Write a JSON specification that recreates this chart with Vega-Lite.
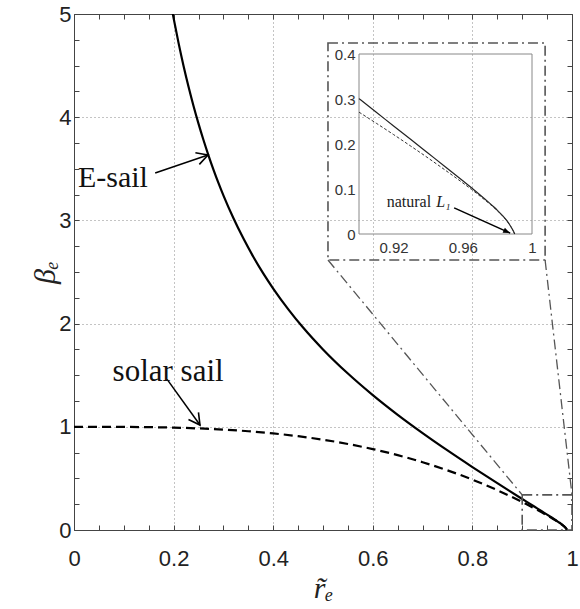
{
  "$schema": "https://vega.github.io/schema/vega-lite/v6.json",
  "width": 498,
  "height": 516,
  "autosize": "none",
  "padding": {"left": 74, "top": 14, "right": 8, "bottom": 79},
  "background": "white",
  "config": {"view": {"stroke": null}},
  "datasets": {
    "esail": [
      {"r": 0.198, "b": 5.011}, {"r": 0.2, "b": 4.96}, {"r": 0.21, "b": 4.718}, {"r": 0.22, "b": 4.497},
      {"r": 0.23, "b": 4.295}, {"r": 0.24, "b": 4.109}, {"r": 0.25, "b": 3.938}, {"r": 0.26, "b": 3.779},
      {"r": 0.27, "b": 3.631}, {"r": 0.28, "b": 3.493}, {"r": 0.29, "b": 3.364}, {"r": 0.3, "b": 3.243},
      {"r": 0.32, "b": 3.023}, {"r": 0.34, "b": 2.826}, {"r": 0.36, "b": 2.648}, {"r": 0.38, "b": 2.487},
      {"r": 0.4, "b": 2.34}, {"r": 0.43, "b": 2.141}, {"r": 0.46, "b": 1.962}, {"r": 0.5, "b": 1.75},
      {"r": 0.55, "b": 1.516}, {"r": 0.6, "b": 1.307}, {"r": 0.65, "b": 1.116}, {"r": 0.7, "b": 0.939},
      {"r": 0.75, "b": 0.771}, {"r": 0.8, "b": 0.61}, {"r": 0.85, "b": 0.454}, {"r": 0.9, "b": 0.3008},
      {"r": 0.91, "b": 0.2705}, {"r": 0.92, "b": 0.2401}, {"r": 0.93, "b": 0.2098}, {"r": 0.94, "b": 0.1794},
      {"r": 0.95, "b": 0.149}, {"r": 0.96, "b": 0.1182}, {"r": 0.965, "b": 0.1026}, {"r": 0.97, "b": 0.0868},
      {"r": 0.975, "b": 0.0703}, {"r": 0.978, "b": 0.0599}, {"r": 0.98, "b": 0.0526}, {"r": 0.983, "b": 0.0407},
      {"r": 0.985, "b": 0.0317}, {"r": 0.987, "b": 0.0212}, {"r": 0.988, "b": 0.0151}, {"r": 0.989, "b": 0.0082},
      {"r": 0.99, "b": 0.0}
    ],
    "solar": [
      {"r": 0.0, "b": 1.0}, {"r": 0.05, "b": 0.9999}, {"r": 0.1, "b": 0.999}, {"r": 0.15, "b": 0.9966},
      {"r": 0.2, "b": 0.992}, {"r": 0.25, "b": 0.9844}, {"r": 0.3, "b": 0.973}, {"r": 0.35, "b": 0.9571},
      {"r": 0.4, "b": 0.936}, {"r": 0.45, "b": 0.9089}, {"r": 0.5, "b": 0.875}, {"r": 0.55, "b": 0.8336},
      {"r": 0.6, "b": 0.784}, {"r": 0.65, "b": 0.7254}, {"r": 0.7, "b": 0.657}, {"r": 0.75, "b": 0.5781},
      {"r": 0.8, "b": 0.488}, {"r": 0.85, "b": 0.3859}, {"r": 0.9, "b": 0.2708}, {"r": 0.91, "b": 0.2461},
      {"r": 0.92, "b": 0.2209}, {"r": 0.93, "b": 0.1951}, {"r": 0.94, "b": 0.1687}, {"r": 0.95, "b": 0.1415},
      {"r": 0.96, "b": 0.1135}, {"r": 0.965, "b": 0.0991}, {"r": 0.97, "b": 0.0841}, {"r": 0.975, "b": 0.0685},
      {"r": 0.978, "b": 0.0586}, {"r": 0.98, "b": 0.0515}, {"r": 0.983, "b": 0.04}, {"r": 0.985, "b": 0.0312},
      {"r": 0.987, "b": 0.021}, {"r": 0.988, "b": 0.0149}, {"r": 0.989, "b": 0.0081}, {"r": 0.99, "b": 0.0}
    ]
  },
  "layer": [
    {
      "encoding": {
        "x": {
          "field": "r", "type": "quantitative",
          "scale": {"domain": [0, 1], "nice": false, "zero": false},
          "axis": {
            "values": [0, 0.05, 0.1, 0.15, 0.2, 0.25, 0.3, 0.35, 0.4, 0.45, 0.5, 0.55, 0.6, 0.65, 0.7, 0.75, 0.8, 0.85, 0.9, 0.95, 1],
            "format": "~g",
            "labelExpr": "round(datum.value*20)%4==0 ? datum.label : ''",
            "labelFont": "Liberation Sans", "labelFontSize": 22, "labelColor": "#222",
            "labelPadding": 23, "labelOverlap": false, "labelFlush": false, "labelBound": false,
            "tickSize": -5, "tickColor": "#444", "domainColor": "#444",
            "grid": true, "gridDash": [1, 3], "gridColor": "#888",
            "gridOpacity": {"condition": {"test": "round(datum.value*20)%4==0", "value": 1}, "value": 0},
            "title": "r̃ₑ", "titleFont": "Liberation Serif", "titleFontStyle": "italic",
            "titleFontSize": 30, "titleFontWeight": "normal", "titleColor": "#222", "titlePadding": 4
          }
        },
        "y": {
          "field": "b", "type": "quantitative",
          "scale": {"domain": [0, 5], "nice": false, "zero": false},
          "axis": {
            "values": [0, 0.25, 0.5, 0.75, 1, 1.25, 1.5, 1.75, 2, 2.25, 2.5, 2.75, 3, 3.25, 3.5, 3.75, 4, 4.25, 4.5, 4.75, 5],
            "format": "~g",
            "labelExpr": "round(datum.value*4)%4==0 ? datum.label : ''",
            "labelFont": "Liberation Sans", "labelFontSize": 22, "labelColor": "#222",
            "labelPadding": 8, "labelOverlap": false, "labelFlush": false, "labelBound": false,
            "tickSize": -5, "tickColor": "#444", "domainColor": "#444",
            "grid": true, "gridDash": [1, 3], "gridColor": "#888",
            "gridOpacity": {"condition": {"test": "round(datum.value*4)%4==0", "value": 1}, "value": 0},
            "title": "βₑ", "titleFont": "Liberation Serif", "titleFontStyle": "italic",
            "titleFontSize": 30, "titleFontWeight": "normal", "titleColor": "#222", "titlePadding": -2
          }
        }
      },
      "layer": [
        {
          "data": {"name": "esail"},
          "mark": {"type": "line", "color": "black", "strokeWidth": 2.2, "clip": true, "interpolate": "monotone"}
        },
        {
          "data": {"name": "solar"},
          "mark": {"type": "line", "color": "black", "strokeWidth": 2.2, "strokeDash": [9, 5], "clip": true, "interpolate": "monotone"}
        },
        {
          "data": {"values": [{"r": 0.51, "r2": 0.946, "b": 2.616, "b2": 4.719}, {"r": 0.9, "r2": 1.0, "b": 0.0, "b2": 0.34}]},
          "mark": {"type": "rect", "fill": null, "stroke": "#555", "strokeWidth": 1.6, "strokeDash": [10, 4, 2, 4]},
          "encoding": {"x2": {"field": "r2"}, "y2": {"field": "b2"}}
        },
        {
          "data": {"values": [{"r": 0.51, "b": 2.616, "r2": 0.9, "b2": 0.34}, {"r": 0.946, "b": 2.616, "r2": 1.0, "b2": 0.34}]},
          "mark": {"type": "rule", "color": "#555", "strokeWidth": 1.3, "strokeDash": [10, 4, 2, 4]},
          "encoding": {"x2": {"field": "r2"}, "y2": {"field": "b2"}}
        },
        {
          "data": {"values": [{"r": 0.163, "b": 3.459, "r2": 0.269, "b2": 3.634}, {"r": 0.187, "b": 1.46, "r2": 0.253, "b2": 1.017}]},
          "mark": {"type": "rule", "color": "black", "strokeWidth": 1.5},
          "encoding": {"x2": {"field": "r2"}, "y2": {"field": "b2"}}
        },
        {
          "data": {"values": [{"r": 0.269, "b": 3.634}]},
          "mark": {"type": "point", "shape": "M-1,-0.55L0,0L-1,0.55", "size": 500, "filled": false, "stroke": "black", "strokeWidth": 1.6, "angle": -18.8, "opacity": 1}
        },
        {
          "data": {"values": [{"r": 0.253, "b": 1.017}]},
          "mark": {"type": "point", "shape": "M-1,-0.55L0,0L-1,0.55", "size": 500, "filled": false, "stroke": "black", "strokeWidth": 1.6, "angle": 54.3, "opacity": 1}
        },
        {
          "data": {"values": [{"r": 0.008, "b": 3.41, "label": "E-sail"}]},
          "mark": {"type": "text", "align": "left", "baseline": "middle", "font": "Liberation Serif", "fontSize": 30, "color": "#111"},
          "encoding": {"text": {"field": "label"}}
        },
        {
          "data": {"values": [{"r": 0.189, "b": 1.53, "label": "solar sail"}]},
          "mark": {"type": "text", "align": "center", "baseline": "middle", "font": "Liberation Serif", "fontSize": 31, "color": "#111"},
          "encoding": {"text": {"field": "label"}}
        }
      ]
    },
    {
      "data": {"name": "solar"},
      "mark": {"type": "line", "opacity": 0},
      "encoding": {
        "x": {
          "field": "r", "type": "quantitative",
          "scale": {"domain": [0, 1], "nice": false, "zero": false},
          "axis": {
            "orient": "top", "labels": false, "title": null, "grid": false,
            "values": [0, 0.05, 0.1, 0.15, 0.2, 0.25, 0.3, 0.35, 0.4, 0.45, 0.5, 0.55, 0.6, 0.65, 0.7, 0.75, 0.8, 0.85, 0.9, 0.95, 1],
            "tickSize": -5, "tickColor": "#444", "domainColor": "#444"
          }
        },
        "y": {
          "field": "b", "type": "quantitative",
          "scale": {"domain": [0, 5], "nice": false, "zero": false},
          "axis": {
            "orient": "right", "labels": false, "title": null, "grid": false,
            "values": [0, 0.25, 0.5, 0.75, 1, 1.25, 1.5, 1.75, 2, 2.25, 2.5, 2.75, 3, 3.25, 3.5, 3.75, 4, 4.25, 4.5, 4.75, 5],
            "tickSize": -5, "tickColor": "#444", "domainColor": "#444"
          }
        }
      }
    },
    {
      "encoding": {
        "x": {
          "field": "r", "type": "quantitative",
          "scale": {"domain": [0.9, 1], "range": [285, 458], "nice": false, "zero": false},
          "axis": {
            "orient": "bottom", "offset": -296, "values": [0.92, 0.96, 1], "format": "~g",
            "labelFont": "Liberation Sans", "labelFontSize": 15, "labelColor": "#333", "labelPadding": 6,
            "labelFlush": false, "labelBound": false, "labelOverlap": false,
            "ticks": false, "domain": false, "grid": false, "title": null
          }
        },
        "y": {
          "field": "b", "type": "quantitative",
          "scale": {"domain": [0, 0.4], "range": [220, 40], "nice": false, "zero": false},
          "axis": {
            "orient": "left", "offset": -285, "values": [0, 0.1, 0.2, 0.3, 0.4], "format": "~g",
            "labelFont": "Liberation Sans", "labelFontSize": 15, "labelColor": "#333", "labelPadding": 4,
            "labelFlush": false, "labelBound": false, "labelOverlap": false,
            "ticks": false, "domain": false, "grid": false, "title": null
          }
        }
      },
      "layer": [
        {
          "data": {"values": [{"r": 0.92}, {"r": 0.94}, {"r": 0.96}, {"r": 0.98}]},
          "mark": {"type": "rule", "color": "#d8d8d8", "strokeWidth": 1},
          "encoding": {"y": {"datum": 0}, "y2": {"datum": 0.4}}
        },
        {
          "data": {"values": [{"b": 0.1}, {"b": 0.2}, {"b": 0.3}]},
          "mark": {"type": "rule", "color": "#d8d8d8", "strokeWidth": 1},
          "encoding": {"x": {"datum": 0.9}, "x2": {"datum": 1}}
        },
        {
          "data": {"values": [{"r": 0.9, "r2": 1, "b": 0, "b2": 0.4}]},
          "mark": {"type": "rect", "fill": null, "stroke": "#888", "strokeWidth": 1},
          "encoding": {"x2": {"field": "r2"}, "y2": {"field": "b2"}}
        },
        {
          "data": {"name": "esail"},
          "transform": [{"filter": "datum.r >= 0.9"}],
          "mark": {"type": "line", "color": "#222", "strokeWidth": 1.2, "interpolate": "monotone"}
        },
        {
          "data": {"name": "solar"},
          "transform": [{"filter": "datum.r >= 0.9"}],
          "mark": {"type": "line", "color": "#333", "strokeWidth": 1, "strokeDash": [3, 2], "interpolate": "monotone"}
        },
        {
          "data": {"values": [{"r": 0.955, "b": 0.058, "r2": 0.9874, "b2": 0.002}]},
          "mark": {"type": "rule", "color": "black", "strokeWidth": 1.5},
          "encoding": {"x2": {"field": "r2"}, "y2": {"field": "b2"}}
        },
        {
          "data": {"values": [{"r": 0.9874, "b": 0.002}]},
          "mark": {"type": "point", "shape": "M-1,-0.4L0,0L-1,0.4Z", "size": 200, "filled": true, "color": "black", "angle": 23.7, "opacity": 1}
        },
        {
          "data": {"values": [{"r": 0.916, "b": 0.071, "label": "natural"}]},
          "mark": {"type": "text", "align": "left", "baseline": "middle", "font": "Liberation Serif", "fontSize": 16, "color": "#222"},
          "encoding": {"text": {"field": "label"}}
        },
        {
          "data": {"values": [{"r": 0.9446, "b": 0.071, "label": "L₁"}]},
          "mark": {"type": "text", "align": "left", "baseline": "middle", "font": "Liberation Serif", "fontStyle": "italic", "fontSize": 16, "color": "#222"},
          "encoding": {"text": {"field": "label"}}
        }
      ]
    }
  ],
  "resolve": {"scale": {"x": "independent", "y": "independent"}}
}
